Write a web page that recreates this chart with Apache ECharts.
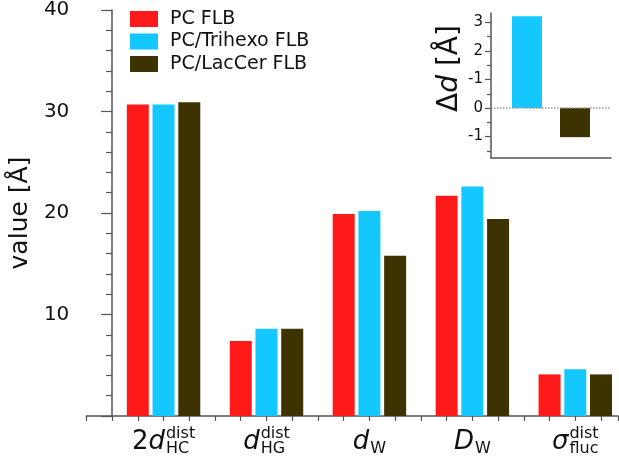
<!DOCTYPE html>
<html>
<head>
<meta charset="utf-8">
<script src="https://cdn.jsdelivr.net/npm/echarts@6/dist/echarts.min.js"></script>
<style>
  html, body { margin: 0; padding: 0; background: #fff; }
  #chart { width: 619px; height: 461px; }
</style>
</head>
<body>
<div id="chart"></div>
<script>
// group labels: prefix + italic symbol + superscript / subscript
const labelPre = ['2', '', '', '', '']
const labelSym = ['d', 'd', 'd', 'D', 'σ']
const labelSup = ['dist', 'dist', '', '', 'dist']
const labelSub = ['HC', 'HG', 'W', 'W', 'fluc']

const seriesNames = ['PC FLB', 'PC/Trihexo FLB', 'PC/LacCer FLB']
const pcFlb = [30.7, 7.4, 19.9, 21.7, 4.1]
const trihexoFlb = [30.7, 8.6, 20.2, 22.6, 4.6]
const lacCerFlb = [30.9, 8.6, 15.8, 19.4, 4.1]

const yTicks = [10, 20, 30, 40]

// inset: delta d
const insetSlots = ['', 'PC/Trihexo FLB', '', 'PC/LacCer FLB', '']
const insetDelta = [3.22, -1.02]
const insetTicks = [-1, 0, 1, 2, 3]
const insetTickLabels = ['-1', '0', '-1', '2', '3']
const insetMinor = [-1.5, -0.5, 0.5, 1.5, 2.5]

const colors = ['#ff1a1a', '#14c8ff', '#3d3300']
const FONT = 'DejaVu Sans'
const axisColor = '#555'

// each group takes 4 slots: gap, red, cyan, dark
function toSlots(values, offset) {
  return values.map((v, i) => [i * 4 + offset, v])
}

function insetData(value, slotIndex) {
  return insetSlots.map((s, i) => (i === slotIndex ? value : '-'))
}

const chart = echarts.init(document.getElementById('chart'))

const mainData = [pcFlb, trihexoFlb, lacCerFlb]

chart.setOption({
  animation: false,
  textStyle: { fontFamily: FONT },
  legend: {
    data: seriesNames,
    orient: 'vertical',
    left: 130,
    top: 9.5,
    padding: 0,
    itemWidth: 28,
    itemHeight: 16,
    itemGap: 3.5,
    icon: 'rect',
    textStyle: { fontSize: 19, color: '#111', padding: [0, 0, 0, 7] }
  },
  grid: [
    { left: 85, right: 1, top: 10, bottom: 45 },
    { left: 491, right: 8, top: 13, bottom: 303 }
  ],
  xAxis: [{
    type: 'value',
    gridIndex: 0,
    min: -1,
    max: 19.66,
    interval: 1,
    axisLine: { lineStyle: { color: axisColor, width: 1.5 } },
    axisTick: { show: true, length: 5, lineStyle: { color: axisColor, width: 1.2 } },
    axisLabel: { show: false },
    splitLine: { show: false }
  }, {
    type: 'category',
    gridIndex: 1,
    data: insetSlots,
    axisLine: { onZero: false, lineStyle: { color: axisColor, width: 1.5 } },
    axisTick: { show: false },
    axisLabel: { show: false }
  }],
  yAxis: [{
    type: 'value',
    gridIndex: 0,
    min: 0,
    max: 40,
    interval: 10,
    name: 'value [Å]',
    nameLocation: 'middle',
    nameRotate: 90,
    nameGap: 38,
    nameTextStyle: { fontSize: 25, color: '#111' },
    axisLine: { show: true, lineStyle: { color: axisColor, width: 1.5 } },
    axisTick: { show: true, length: 11, lineStyle: { color: axisColor, width: 1.2 } },
    minorTick: { show: true, splitNumber: 5, length: 6, lineStyle: { color: axisColor, width: 1.2 } },
    axisLabel: {
      fontSize: 20,
      color: '#111',
      margin: 17,
      formatter: v => (yTicks.indexOf(v) >= 0 ? String(v) : '')
    },
    splitLine: { show: false }
  }, {
    type: 'value',
    gridIndex: 1,
    position: 'left',
    min: -1.75,
    max: 3.33,
    name: '{a|Δ}{i|d}{a| [Å]}',
    nameLocation: 'middle',
    nameRotate: 90,
    nameGap: 20,
    nameTextStyle: {
      padding: [0, 0, 0, 34],
      rich: {
        a: { fontSize: 28, color: '#111', fontFamily: FONT },
        i: { fontSize: 28, color: '#111', fontFamily: FONT, fontStyle: 'italic' }
      }
    },
    axisLine: { show: true, lineStyle: { color: axisColor, width: 1.5 } },
    axisTick: { show: true, length: 6, customValues: insetTicks, lineStyle: { color: axisColor, width: 1.2 } },
    axisLabel: {
      fontSize: 15,
      color: '#111',
      margin: 8,
      customValues: insetTicks,
      formatter: v => insetTickLabels[insetTicks.indexOf(Math.round(v))]
    },
    splitLine: { show: false }
  }, {
    type: 'value',
    gridIndex: 1,
    position: 'left',
    min: -1.75,
    max: 3.33,
    axisLine: { show: false },
    axisTick: { show: true, length: 4, customValues: insetMinor, lineStyle: { color: axisColor, width: 1.2 } },
    axisLabel: { show: false },
    splitLine: { show: false }
  }],
  series: seriesNames.map((name, k) => ({
    name,
    type: 'bar',
    xAxisIndex: 0,
    yAxisIndex: 0,
    barWidth: 22,
    barGap: '-100%',
    itemStyle: { color: colors[k] },
    data: toSlots(mainData[k], k + 1)
  })).concat([{
    name: 'delta trihexo',
    type: 'bar',
    xAxisIndex: 1,
    yAxisIndex: 1,
    barWidth: 30,
    barGap: '-100%',
    itemStyle: { color: colors[1] },
    data: insetData(insetDelta[0], 1),
    markLine: {
      silent: true,
      symbol: ['none', 'none'],
      label: { show: false },
      lineStyle: { type: 'dotted', color: '#999', width: 1.5 },
      data: [{ yAxis: 0 }]
    }
  }, {
    name: 'delta laccer',
    type: 'bar',
    xAxisIndex: 1,
    yAxisIndex: 1,
    barWidth: 30,
    barGap: '-100%',
    itemStyle: { color: colors[2] },
    data: insetData(insetDelta[1], 3)
  }])
})

// x labels with super/subscripts, placed under each group centre
const ctx = document.createElement('canvas').getContext('2d')
function textWidth(str, font) {
  ctx.font = font
  return ctx.measureText(str).width
}

const mainSize = 26
const scriptSize = 16
const graphics = []
labelSym.forEach((sym, i) => {
  const cx = chart.convertToPixel({ gridIndex: 0 }, [i * 4 + 2, 0])[0]
  const wPre = textWidth(labelPre[i], mainSize + 'px ' + FONT)
  const wSym = textWidth(sym, 'italic ' + mainSize + 'px ' + FONT)
  const wScript = Math.max(
    textWidth(labelSup[i], scriptSize + 'px ' + FONT),
    textWidth(labelSub[i], scriptSize + 'px ' + FONT)
  )
  const x0 = cx - (wPre + wSym + 1 + wScript) / 2
  graphics.push({
    type: 'text',
    x: x0,
    y: 442,
    style: {
      text: (labelPre[i] ? '{n|' + labelPre[i] + '}' : '') + '{i|' + sym + '}',
      verticalAlign: 'middle',
      align: 'left',
      rich: {
        n: { fontSize: mainSize, fontFamily: FONT, fill: '#111' },
        i: { fontSize: mainSize, fontFamily: FONT, fontStyle: 'italic', fill: '#111' }
      }
    }
  })
  const xs = x0 + wPre + wSym + 1
  if (labelSup[i]) {
    graphics.push({
      type: 'text',
      x: xs,
      y: 434,
      style: { text: labelSup[i], fontSize: scriptSize, fontFamily: FONT, fill: '#111', verticalAlign: 'middle', align: 'left' }
    })
  }
  graphics.push({
    type: 'text',
    x: xs,
    y: 449,
    style: { text: labelSub[i], fontSize: scriptSize, fontFamily: FONT, fill: '#111', verticalAlign: 'middle', align: 'left' }
  })
})
chart.setOption({ graphic: graphics })
</script>
</body>
</html>
